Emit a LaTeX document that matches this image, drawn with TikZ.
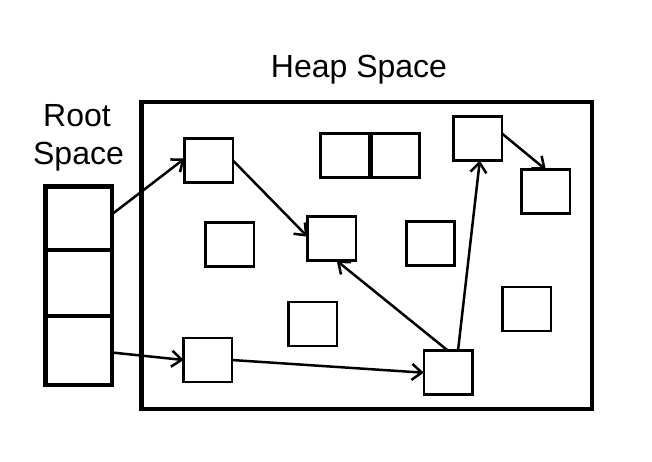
\documentclass[tikz,border=0pt]{standalone}
\usepackage{fontspec}
\setmainfont{Liberation Sans}
\usetikzlibrary{arrows.meta}
\begin{document}
\begin{tikzpicture}[x=1pt,y=-1pt,
  obj/.style={draw,line width=2.7pt,minimum width=48.3pt,minimum height=44pt,inner sep=0pt,outer sep=0pt},
  cell/.style={draw,line width=4.5pt,minimum width=66.3pt,inner sep=0pt,outer sep=0pt},
  heapbox/.style={draw,line width=4.7pt,inner sep=0pt,outer sep=0pt},
  ref/.style={line width=2.5pt,-{Straight Barb[length=10pt,width=16pt]}},
  lbl/.style={font=\fontsize{32}{38}\selectfont,anchor=base,inner sep=0pt}]
\useasboundingbox[fill=white] (0,0) rectangle (652,461);
% labels
\node[lbl] (heaplbl) at (359,77) {Heap Space};
\node[lbl] (rootlbl1) at (77,126) {Root};
\node[lbl] (rootlbl2) at (78.5,164) {Space};
% heap
\node[heapbox,minimum width=450.5pt,minimum height=307pt] (heap) at (366.75,255.5) {};
% root stack
\node[cell,minimum height=63.5pt] (r1) at (78.85,218.25) {};
\node[cell,minimum height=66pt] (r2) at (78.85,283) {};
\node[cell,minimum height=69pt] (r3) at (78.85,350.5) {};
% objects
\node[obj] (A) at (208.8,160.5) {};
\node[obj] (B) at (331.7,238.7) {};
\node[obj] (C1) at (344.7,155.2) {};
\node[obj] (C2) at (395.3,155.2) {};
\node[obj] (D) at (477.8,138.5) {};
\node[obj] (E) at (545.8,191.7) {};
\node[obj] (F) at (229.7,244.7) {};
\node[obj] (G) at (430.3,243.3) {};
\node[obj] (H) at (312.8,324) {};
\node[obj] (I) at (526.8,309) {};
\node[obj] (J) at (207.8,360) {};
\node[obj] (K) at (448,372.7) {};
% references
\draw[ref] ([yshift=4pt]r1.east) -- ([yshift=2pt]A.west);
\draw[ref] (A.east) -- ([yshift=2pt]B.west);
\draw[ref] ([yshift=-2pt]r3.east) -- (J.west);
\draw[ref] (J.east) -- (K.west);
\draw[ref] ([xshift=10pt]K.north) -- ([xshift=2pt]D.south);
\draw[ref] (K.north) -- ([xshift=5pt]B.south);
\draw[ref] ([yshift=5pt]D.east) -- (E.north);
\end{tikzpicture}
\end{document}
